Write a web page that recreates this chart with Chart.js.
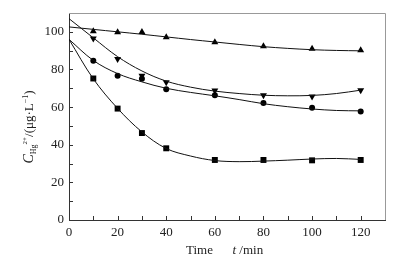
<!DOCTYPE html>
<html><head><meta charset="utf-8">
<script src="https://cdn.jsdelivr.net/npm/chart.js@4"></script>
<style>html,body{margin:0;padding:0;background:#fff}#wrap{width:407px;height:265px}</style>
</head><body><div id="wrap"><canvas id="c" width="407" height="265"></canvas></div>
<script>
// measured points (markers)
const times = [10, 20, 30, 40, 60, 80, 100, 120];
const seriesUp = [100.3, 99.8, 99.9, 97.1, 94.5, 92.3, 91.0, 90.2];
const seriesDown = [96.5, 85.6, 76.6, 73.2, 68.8, 66.3, 65.6, 68.9];
const seriesCircle = [84.6, 76.6, 75.0, 69.5, 66.3, 62.2, 59.6, 57.6];
const seriesSquare = [75.2, 59.2, 46.2, 38.1, 31.9, 31.9, 31.7, 31.9];
// fitted curves
const fitTimes = [0, 10, 20, 30, 40, 50, 60, 70, 80, 90, 100, 110, 120];
const fitUp = [102.6, 101.3, 100.0, 98.7, 97.3, 95.9, 94.6, 93.3, 92.1, 91.2, 90.5, 90.1, 89.9];
const fitDown = [107, 96.8, 86.8, 79.2, 73.8, 70.6, 68.5, 67.2, 66.3, 66.0, 66.2, 67.2, 69.0];
const fitCircle = [96, 84.8, 77.8, 73.4, 70.0, 67.8, 66.0, 64.0, 61.8, 60.2, 59.0, 58.2, 58.0];
const fitSquare = [96, 75.0, 59.3, 46.8, 38.0, 34.0, 31.6, 31.0, 31.3, 31.8, 32.4, 32.7, 32.2];
const xTicks = [0, 20, 40, 60, 80, 100, 120];
const yTicks = [0, 20, 40, 60, 80, 100];
const xMinor = [10, 30, 50, 70, 90, 110];
const yMinor = [10, 30, 50, 70, 90];

const FONT = "'Liberation Serif'";
function pts(xs, arr){ return xs.map((t,i)=>({x:t,y:arr[i]})); }
function marks(arr, style, r, rot){
  return {type:'scatter', data: pts(times, arr), pointStyle: style, pointRadius: r, pointHoverRadius: r,
    pointRotation: rot||0, pointBackgroundColor:'#000', pointBorderColor:'#000', pointBorderWidth:0, showLine:false};
}
function fit(arr){
  return {type:'line', data: pts(fitTimes, arr), pointRadius:0, pointHoverRadius:0, borderColor:'#111',
    borderWidth:1, tension:0.35, fill:false};
}

const deco = {
  id:'deco',
  afterDraw(chart){
    const ctx = chart.ctx, a = chart.chartArea, xs = chart.scales.x, ys = chart.scales.y;
    ctx.save();
    ctx.strokeStyle = '#999'; ctx.lineWidth = 1;
    ctx.beginPath();
    ctx.moveTo(a.left, a.top+0.5); ctx.lineTo(a.right+0.5, a.top+0.5); ctx.lineTo(a.right+0.5, a.bottom);
    ctx.stroke();
    ctx.strokeStyle = '#333';
    ctx.beginPath();
    xTicks.concat(xMinor).forEach(v=>{ const px = Math.round(xs.getPixelForValue(v))+0.5; ctx.moveTo(px, a.bottom); ctx.lineTo(px, a.bottom-4); });
    yTicks.concat(yMinor).forEach(v=>{ const py = Math.round(ys.getPixelForValue(v))+0.5; ctx.moveTo(a.left, py); ctx.lineTo(a.left+4, py); });
    ctx.stroke();
    ctx.fillStyle = '#222'; ctx.textBaseline = 'alphabetic';
    let x = 186, y = 254;
    const xparts = [['Time', '13px '+FONT], ['      ', '13px '+FONT], ['t', 'italic 13px '+FONT], [' /min', '13px '+FONT]];
    xparts.forEach(p=>{ ctx.font = p[1]; ctx.fillText(p[0], x, y); x += ctx.measureText(p[0]).width; });
    const parts = [
      ['C', 'italic 14px '+FONT, 0],
      ['Hg', '8px '+FONT, 3],
      ['2+', '7px '+FONT, -6],
      ['/(μg·L', '13px '+FONT, 0],
      ['−1', '8px '+FONT, -5],
      [')', '13px '+FONT, 0]
    ];
    let total = 0;
    parts.forEach(p=>{ ctx.font = p[1]; total += ctx.measureText(p[0]).width; });
    ctx.translate(33, 127); ctx.rotate(-Math.PI/2);
    let cx = -total/2;
    parts.forEach(p=>{ ctx.font = p[1]; ctx.fillText(p[0], cx, p[2]); cx += ctx.measureText(p[0]).width; });
    ctx.restore();
  }
};

new Chart(document.getElementById('c'), {
  type:'line',
  data:{ datasets:[
    fit(fitUp), fit(fitDown), fit(fitCircle), fit(fitSquare),
    marks(seriesUp, 'triangle', 4, 0),
    marks(seriesDown, 'triangle', 4, 180),
    marks(seriesCircle, 'circle', 3, 0),
    marks(seriesSquare, 'rect', 4.2, 0)
  ]},
  options:{
    responsive:false, animation:false, devicePixelRatio:1,
    layout:{padding:{top:13, right:22, left:0, bottom:0}},
    plugins:{legend:{display:false}, tooltip:{enabled:false}},
    scales:{
      x:{type:'linear', min:0, max:130,
        afterBuildTicks(s){ s.ticks = xTicks.map(v=>({value:v})); },
        afterFit(s){ s.height = 45; },
        grid:{display:false, drawTicks:false},
        border:{display:true, color:'#333', width:1},
        ticks:{font:{family:FONT, size:13}, color:'#222', padding:5, maxRotation:0}
      },
      y:{type:'linear', min:0, max:110,
        afterBuildTicks(s){ s.ticks = yTicks.map(v=>({value:v})); },
        afterFit(s){ s.width = 69; },
        grid:{display:false, drawTicks:false},
        border:{display:true, color:'#333', width:1},
        ticks:{font:{family:FONT, size:13}, color:'#222', padding:5}
      }
    }
  },
  plugins:[deco]
});
</script></body></html>
